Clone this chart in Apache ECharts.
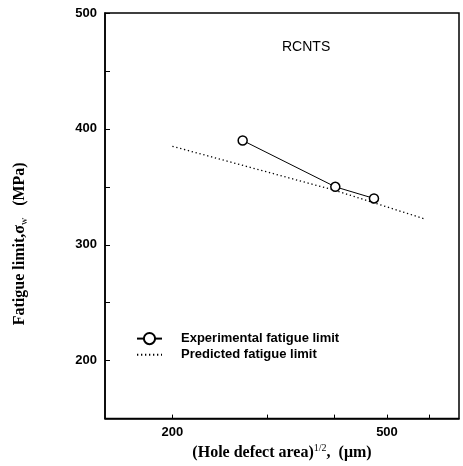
<!DOCTYPE html>
<html><head><meta charset="utf-8">
<script src="https://cdn.jsdelivr.net/npm/echarts@6/dist/echarts.min.js"></script>
<style>html,body{margin:0;padding:0;background:#fff}#c{width:463px;height:466px}</style>
</head><body><div id="c"></div>
<script>
const xTickValues = [200, 300, 400, 500, 600];
const xLabelValues = [200, 500];
const experimentalX = [270, 401, 473];
const experimentalY = [390, 350, 340];
const predictedX = [200, 400, 590];
const predictedY = [385, 347, 322];
const seriesNames = ['Experimental fatigue limit', 'Predicted fatigue limit'];
const panelLabel = 'RCNTS';

const zip = (xs, ys) => xs.map((x, i) => [x, ys[i]]);
const chart = echarts.init(document.getElementById('c'), null, {renderer: 'canvas'});
const sans = 'Liberation Sans';
const serif = 'Liberation Serif';
chart.setOption({
  animation: false,
  backgroundColor: '#fff',
  title: {
    text: panelLabel, left: 282, top: 40, padding: 0,
    textStyle: {fontFamily: sans, fontSize: 14, fontWeight: 'normal', color: '#000'}
  },
  legend: {
    orient: 'vertical', left: 131, top: 327, itemWidth: 25, itemHeight: 14, itemGap: 3,
    data: [{name: seriesNames[0]}, {name: seriesNames[1], itemStyle: {opacity: 0}}],
    textStyle: {fontFamily: sans, fontSize: 13, fontWeight: 'bold', color: '#000', padding: [0, 0, 0, 14]}
  },
  grid: {left: 105, right: 4, top: 13, bottom: 44, show: true, borderColor: '#000', borderWidth: 1.5, containLabel: false},
  xAxis: {
    type: 'log', logBase: 10, min: 150, max: 680,
    name: '{t|(Hole defect area)}{sup|1/2}{t|,  (\u03bcm)}',
    nameLocation: 'middle', nameGap: 24,
    nameTextStyle: {rich: {
      t: {fontFamily: serif, fontSize: 16, fontWeight: 'bold', color: '#000'},
      sup: {fontFamily: serif, fontSize: 10, color: '#000', padding: [0, 0, 9, 0]}
    }},
    axisLine: {lineStyle: {color: '#000', width: 1.5}},
    axisTick: {inside: true, length: 4, customValues: xTickValues, lineStyle: {color: '#000', width: 1}},
    minorTick: {show: false},
    axisLabel: {customValues: xLabelValues, margin: 7, fontFamily: sans, fontSize: 13, fontWeight: 'bold', color: '#000'},
    splitLine: {show: false}
  },
  yAxis: {
    type: 'value', min: 150, max: 500, interval: 50,
    name: '{t|Fatigue limit,\u03c3}{sub|w}{t|   (MPa)}',
    nameLocation: 'middle', nameRotate: 90, nameGap: 76,
    nameTextStyle: {padding: [0, 56, 0, 0], rich: {
      t: {fontFamily: serif, fontSize: 16, fontWeight: 'bold', color: '#000'},
      sub: {fontFamily: serif, fontSize: 10, color: '#000', padding: [9, 0, 0, 0]}
    }},
    axisLine: {show: true, lineStyle: {color: '#000', width: 1.5}},
    axisTick: {show: true, inside: true, length: 5, lineStyle: {color: '#000', width: 1}},
    axisLabel: {margin: 8, fontFamily: sans, fontSize: 13, fontWeight: 'bold', color: '#000',
      formatter: v => (v % 100 === 0 ? String(v) : '')},
    splitLine: {show: false}
  },
  series: [
    {
      name: seriesNames[0], type: 'line', data: zip(experimentalX, experimentalY),
      symbol: 'circle', symbolSize: 9,
      itemStyle: {color: '#fff', borderColor: '#000', borderWidth: 1.5},
      lineStyle: {color: '#000', width: 1}
    },
    {
      name: seriesNames[1], type: 'line', data: zip(predictedX, predictedY),
      symbol: 'none', smooth: false,
      itemStyle: {color: '#000'},
      lineStyle: {color: '#000', width: 1.3, type: [1.3, 2.7]}
    }
  ]
});
</script></body></html>
